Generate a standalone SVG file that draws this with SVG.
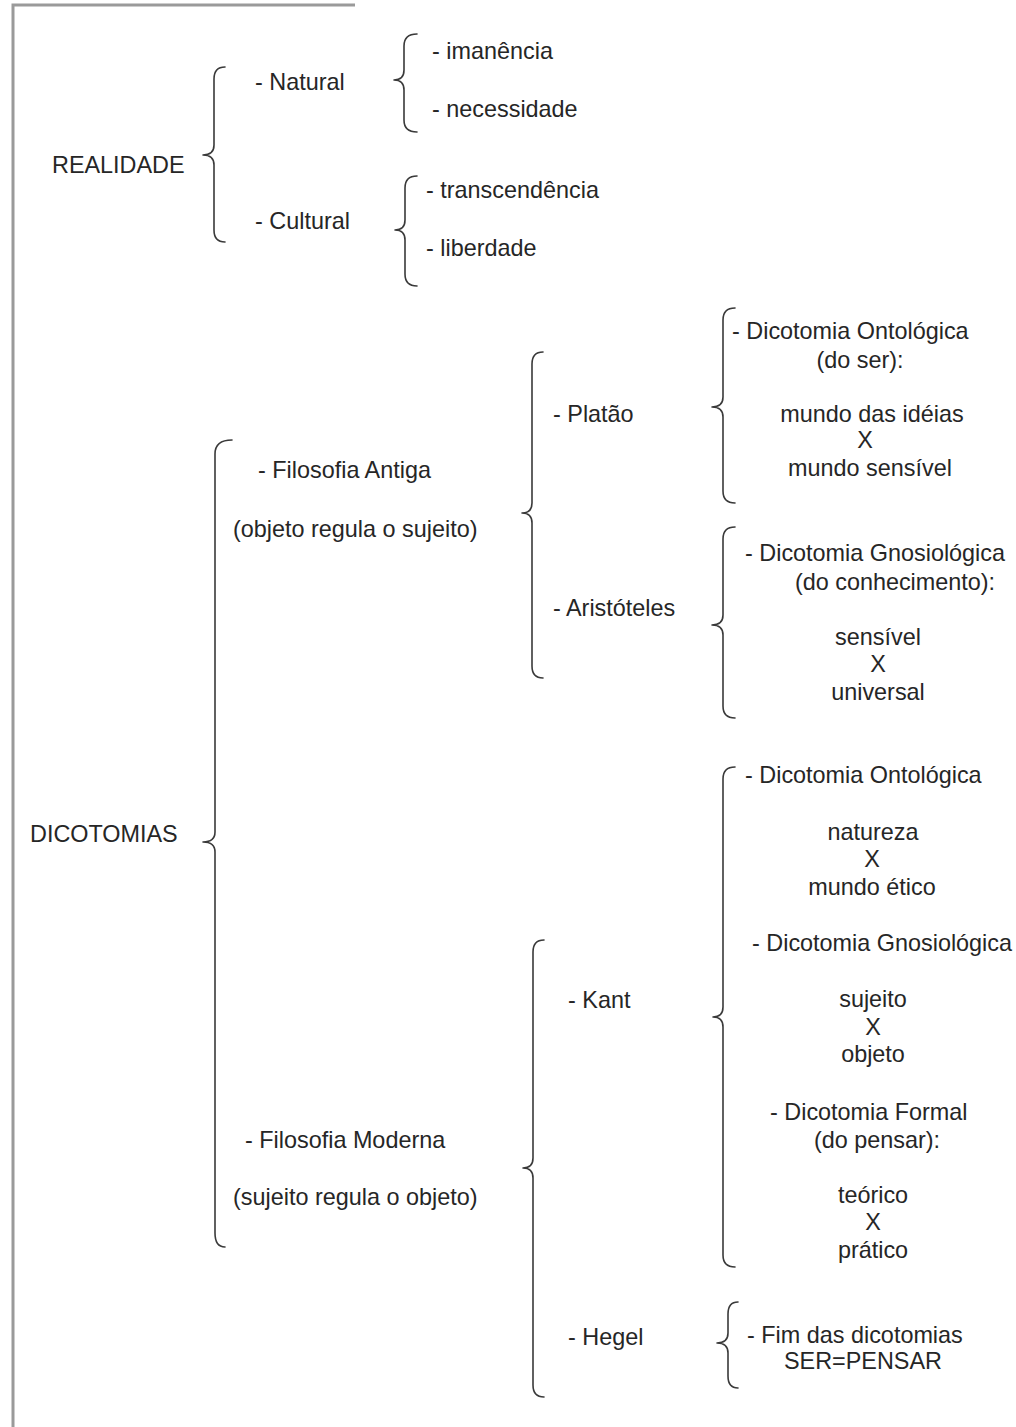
<svg xmlns="http://www.w3.org/2000/svg" width="1016" height="1427" viewBox="0 0 1016 1427">
<style>
text{font-family:"Liberation Sans",Arial,sans-serif;font-size:23.4px;fill:#262626}
.c{text-anchor:middle}
.br{fill:none;stroke:#3a3a3a;stroke-width:1.6;stroke-linecap:round;stroke-linejoin:round}
.frame{stroke:#9a9a9a;stroke-width:3;fill:none}
</style>
<rect width="1016" height="1427" fill="#ffffff"/>
<g id="frame">
<path class="frame" d="M13,1427 L13,5 L355,5"/>
</g>
<g id="connectors">
<path class="br" d="M225,67 Q214,67 214,79 L214,145 Q214,155 203,155 Q214,155 214,165 L214,230 Q214,242 225,242"/>
<path class="br" d="M417,34 Q404,34 404,46 L404,70 Q404,80 394,80 Q404,80 404,90 L404,120 Q404,132 417,132"/>
<path class="br" d="M417,176 Q405,176 405,188 L405,220 Q405,230 395,230 Q405,230 405,240 L405,274 Q405,286 417,286"/>
<path class="br" d="M232,440 Q215,440 215,454 L215,832 Q215,842 203,842 Q215,842 215,852 L215,1233 Q215,1247 225,1247"/>
<path class="br" d="M543,352 Q532,352 532,364 L532,503 Q532,513 522,513 Q532,513 532,523 L532,666 Q532,678 543,678"/>
<path class="br" d="M735,308 Q723,308 723,320 L723,397 Q723,407 712,407 Q723,407 723,417 L723,491 Q723,503 735,503"/>
<path class="br" d="M735,527 Q723,527 723,539 L723,615 Q723,625 712,625 Q723,625 723,635 L723,706 Q723,718 735,718"/>
<path class="br" d="M544,940 Q533,940 533,952 L533,1158 Q533,1168 523,1168 Q533,1168 533,1178 L533,1385 Q533,1397 544,1397"/>
<path class="br" d="M735,767 Q723,767 723,779 L723,1007 Q723,1017 713,1017 Q723,1017 723,1027 L723,1255 Q723,1267 735,1267"/>
<path class="br" d="M738,1302 Q728,1302 728,1314 L728,1333 Q728,1343 717,1343 Q728,1343 728,1353 L728,1376 Q728,1388 738,1388"/>
</g>
<g id="realidade"><text x="52" y="173">REALIDADE</text></g>
<g id="natural"><text x="255" y="90">- Natural</text></g>
<g id="cultural"><text x="255" y="229">- Cultural</text></g>
<g id="imanencia"><text x="432" y="59">- imanência</text></g>
<g id="necessidade"><text x="432" y="117">- necessidade</text></g>
<g id="transcendencia"><text x="426" y="198">- transcendência</text></g>
<g id="liberdade"><text x="426" y="256">- liberdade</text></g>
<g id="dicotomias"><text x="30" y="842">DICOTOMIAS</text></g>
<g id="filosofia-antiga">
<text x="258" y="478">- Filosofia Antiga</text>
<text x="233" y="537">(objeto regula o sujeito)</text>
</g>
<g id="filosofia-moderna">
<text x="245" y="1148">- Filosofia Moderna</text>
<text x="233" y="1205">(sujeito regula o objeto)</text>
</g>
<g id="platao"><text x="553" y="422">- Platão</text></g>
<g id="aristoteles"><text x="553" y="616">- Aristóteles</text></g>
<g id="kant"><text x="568" y="1008">- Kant</text></g>
<g id="hegel"><text x="568" y="1345">- Hegel</text></g>
<g id="platao-dicotomia">
<text x="732" y="339">- Dicotomia Ontológica</text>
<text class="c" x="860" y="368">(do ser):</text>
<text class="c" x="872" y="422">mundo das idéias</text>
<text class="c" x="865" y="448">X</text>
<text class="c" x="870" y="476">mundo sensível</text>
</g>
<g id="aristoteles-dicotomia">
<text x="745" y="561">- Dicotomia Gnosiológica</text>
<text class="c" x="895" y="590">(do conhecimento):</text>
<text class="c" x="878" y="645">sensível</text>
<text class="c" x="878" y="672">X</text>
<text class="c" x="878" y="700">universal</text>
</g>
<g id="kant-ontologica">
<text x="745" y="783">- Dicotomia Ontológica</text>
<text class="c" x="873" y="840">natureza</text>
<text class="c" x="872" y="867">X</text>
<text class="c" x="872" y="895">mundo ético</text>
</g>
<g id="kant-gnosiologica">
<text x="752" y="951">- Dicotomia Gnosiológica</text>
<text class="c" x="873" y="1007">sujeito</text>
<text class="c" x="873" y="1035">X</text>
<text class="c" x="873" y="1062">objeto</text>
</g>
<g id="kant-formal">
<text x="770" y="1120">- Dicotomia Formal</text>
<text class="c" x="877" y="1148">(do pensar):</text>
<text class="c" x="873" y="1203">teórico</text>
<text class="c" x="873" y="1230">X</text>
<text class="c" x="873" y="1258">prático</text>
</g>
<g id="hegel-dicotomia">
<text x="747" y="1343">- Fim das dicotomias</text>
<text class="c" x="863" y="1369">SER=PENSAR</text>
</g>
</svg>
